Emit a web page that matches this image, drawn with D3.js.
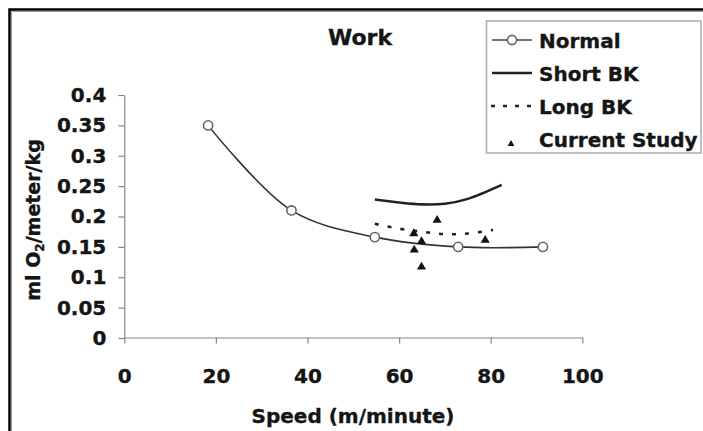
<!DOCTYPE html>
<html>
<head>
<meta charset="utf-8">
<script src="https://cdn.jsdelivr.net/npm/d3@7"></script>
<style>
  body { margin: 0; background: #fff; }
  text { font-family: "DejaVu Sans", sans-serif; font-weight: bold; fill: #151515; stroke: #151515; stroke-width: 0.35px; }
</style>
</head>
<body>
<script>
// data
var normalSpeed = [18.3, 36.5, 54.7, 72.9, 91.4];
var normalO2 = [0.350, 0.210, 0.166, 0.150, 0.150];

var shortSpeed = [54.7, 60, 65, 70, 75, 82.4];
var shortO2 = [0.228, 0.223, 0.220, 0.221, 0.229, 0.252];

var longSpeed = [54.7, 60, 65, 70, 75, 80.5];
var longO2 = [0.188, 0.180, 0.175, 0.171, 0.172, 0.178];

var studySpeed = [68.3, 63.2, 64.9, 63.3, 64.9, 78.8];
var studyO2 = [0.194, 0.172, 0.159, 0.145, 0.117, 0.161];

var xTicks = [0, 20, 40, 60, 80, 100];
var yTicks = [0, 0.05, 0.1, 0.15, 0.2, 0.25, 0.3, 0.35, 0.4];
var yTickLabels = ["0", "0.05", "0.1", "0.15", "0.2", "0.25", "0.3", "0.35", "0.4"];
var legendNames = ["Normal", "Short BK", "Long BK", "Current Study"];

var W = 703, H = 431;

var svg = d3.select("body").append("svg").attr("width", W).attr("height", H);

// outer frame
svg.append("path").attr("d", "M9.5,431V9.5H703").attr("fill", "none")
    .attr("stroke", "#000").attr("stroke-width", 2.5);
svg.append("path").attr("d", "M11.5,431V11.5H703").attr("fill", "none")
    .attr("stroke", "#999").attr("stroke-width", 1);

var x = d3.scaleLinear().domain([0, 100]).range([124.3, 582.3]);
var y = d3.scaleLinear().domain([0, 0.4]).range([338, 95]);

var xAxis = d3.axisBottom(x).tickValues(xTicks).tickSize(6).tickPadding(25).tickSizeOuter(0);
var yAxis = d3.axisLeft(y).tickValues(yTicks).tickSize(6).tickPadding(12).tickSizeOuter(0)
    .tickFormat(function(d, i) { return yTickLabels[i]; });

var gx = svg.append("g").attr("transform", "translate(0,337.5)").call(xAxis);
var gy = svg.append("g").attr("transform", "translate(124.3,0)").call(yAxis);

[gx, gy].forEach(function(g) {
  g.selectAll("path, line").attr("stroke", "#888").attr("stroke-width", 1.2);
  g.selectAll("text").attr("font-size", 20).attr("font-family", "DejaVu Sans")
      .attr("font-weight", "bold").attr("fill", "#151515");
});

// titles
svg.append("text").attr("x", 360).attr("y", 45).attr("text-anchor", "middle")
    .attr("font-size", 22).text("Work");

svg.append("text").attr("x", 353).attr("y", 423).attr("text-anchor", "middle")
    .attr("font-size", 20).text("Speed (m/minute)");

var yl = svg.append("text").attr("transform", "translate(40,220) rotate(-90)")
    .attr("text-anchor", "middle").attr("font-size", 19);
yl.append("tspan").text("ml O");
yl.append("tspan").attr("font-size", 12).attr("dy", 4).text("2");
yl.append("tspan").attr("dy", -4).text("/meter/kg");

var smooth = d3.line()
    .x(function(d) { return x(d[0]); })
    .y(function(d) { return y(d[1]); })
    .curve(d3.curveCatmullRom);

var normalPts = d3.zip(normalSpeed, normalO2);
var shortPts = d3.zip(shortSpeed, shortO2);
var longPts = d3.zip(longSpeed, longO2);
var studyPts = d3.zip(studySpeed, studyO2);

svg.append("path").attr("d", smooth(shortPts)).attr("fill", "none")
    .attr("stroke", "#222").attr("stroke-width", 2.6);

svg.append("path").attr("d", smooth(longPts)).attr("fill", "none")
    .attr("stroke", "#222").attr("stroke-width", 2.6).attr("stroke-dasharray", "4,9");

svg.append("path").attr("d", smooth(normalPts)).attr("fill", "none")
    .attr("stroke", "#333").attr("stroke-width", 1.6);

svg.selectAll("circle.normal")
    .data(normalPts)
    .enter().append("circle")
    .attr("class", "normal")
    .attr("cx", function(d) { return x(d[0]); })
    .attr("cy", function(d) { return y(d[1]); })
    .attr("r", 4.6)
    .attr("fill", "#fff")
    .attr("stroke", "#666")
    .attr("stroke-width", 1.6);

var tri = d3.symbol().type(d3.symbolTriangle);

svg.selectAll("path.study")
    .data(studyPts)
    .enter().append("path")
    .attr("class", "study")
    .attr("d", tri.size(36)())
    .attr("transform", function(d) { return "translate(" + x(d[0]) + "," + y(d[1]) + ")"; })
    .attr("fill", "#111");

// legend
var lg = svg.append("g");
lg.append("rect").attr("x", 486.5).attr("y", 21).attr("width", 214.5).attr("height", 132)
    .attr("fill", "#fff").attr("stroke", "#aaa").attr("stroke-width", 1.5);

var rowY = [40, 73, 106, 139];

lg.append("line").attr("x1", 492).attr("x2", 532).attr("y1", rowY[0]).attr("y2", rowY[0])
    .attr("stroke", "#444").attr("stroke-width", 1.6);
lg.append("circle").attr("cx", 512).attr("cy", rowY[0]).attr("r", 4.6)
    .attr("fill", "#fff").attr("stroke", "#666").attr("stroke-width", 1.6);

lg.append("line").attr("x1", 492).attr("x2", 532).attr("y1", rowY[1]).attr("y2", rowY[1])
    .attr("stroke", "#222").attr("stroke-width", 2.6);

lg.append("line").attr("x1", 491).attr("x2", 532).attr("y1", rowY[2]).attr("y2", rowY[2])
    .attr("stroke", "#222").attr("stroke-width", 2.6).attr("stroke-dasharray", "4,8");

lg.append("path").attr("d", tri.size(20)())
    .attr("transform", "translate(511," + (rowY[3] + 5) + ")").attr("fill", "#111");

lg.selectAll("text.leg")
    .data(legendNames)
    .enter().append("text")
    .attr("class", "leg")
    .attr("x", 539)
    .attr("y", function(d, i) { return rowY[i] + 7.5; })
    .attr("font-size", 20)
    .text(function(d) { return d; });
</script>
</body>
</html>
